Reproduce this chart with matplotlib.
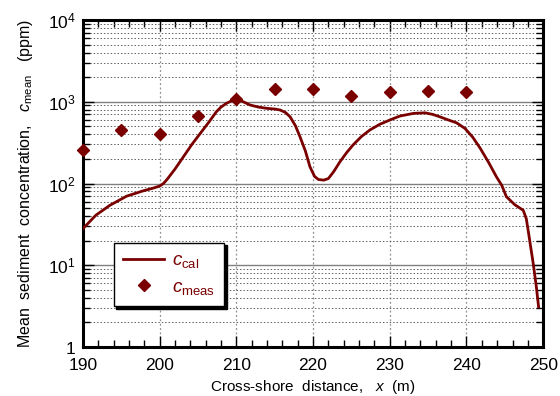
import numpy as np
import matplotlib
matplotlib.use("Agg")
import matplotlib.pyplot as plt
from matplotlib.ticker import LogLocator, MultipleLocator, FixedLocator

plt.rcParams['font.family'] = ['Liberation Sans', 'DejaVu Sans']
plt.rcParams['mathtext.fontset'] = 'custom'
plt.rcParams['mathtext.rm'] = 'Liberation Sans'
plt.rcParams['mathtext.it'] = 'Liberation Sans:italic'

# calculated concentration (line)
x_cal = [190, 191.7, 193.5, 195.7, 197.8, 199.2, 200.0, 200.5, 201.0, 202.0, 203.1, 204.2,
         205.3, 206.4, 207.4, 208.0, 208.7, 209.4, 210.0, 210.8, 211.8, 212.9, 214.0, 215.0,
         215.7, 216.4, 217.0, 217.7, 218.3, 219.0, 219.6, 220.2, 220.7, 221.4, 222.0, 222.7,
         223.5, 224.4, 225.2, 226.3, 227.4, 228.7, 230.0, 231.3, 233.1, 234.6, 235.6, 236.5,
         237.6, 238.7, 239.8, 240.8, 241.8, 242.9, 243.9, 244.6, 245.2, 246.3, 247.4, 247.8,
         248.1, 248.4, 248.7, 249.1, 249.4]
c_cal = [28, 41, 54, 70, 81, 88, 93, 100, 113, 150, 212, 300,
         410, 560, 755, 860, 955, 1030, 1080, 1010, 912, 860, 830, 815,
         793, 740, 656, 510, 373, 250, 160, 122, 112, 110, 115, 140,
         184, 240, 295, 375, 451, 530, 597, 668, 721, 732, 700, 656,
         600, 553, 472, 370, 269, 180, 121, 95, 69, 55, 47, 37,
         24.5, 16, 10.5, 5.5, 3.1]

# measured concentration (diamonds)
x_meas = [190, 195, 200, 205, 210, 215, 220, 225, 230, 235, 240]
c_meas = [256, 451, 403, 676, 1080, 1430, 1450, 1175, 1320, 1340, 1320]

red = '#7a0000'

fig = plt.figure(figsize=(5.6, 3.96), dpi=100)
ax = fig.add_axes([0.148, 0.1237, 0.822, 0.8258])

ax.set_yscale('log')
ax.set_xlim(190, 250)
ax.set_ylim(1, 1e4)

ax.xaxis.set_major_locator(MultipleLocator(10))
ax.xaxis.set_minor_locator(MultipleLocator(2))
ax.yaxis.set_major_locator(FixedLocator([1, 10, 100, 1000, 10000]))
ax.yaxis.set_minor_locator(LogLocator(base=10, subs=np.arange(2, 10), numticks=20))

ax.grid(True, which='major', axis='y', color='#808080', lw=1.0, ls='-')
ax.grid(True, which='minor', axis='y', color='#606060', lw=0.7, ls=(0, (1.5, 2)))
ax.grid(True, which='major', axis='x', color='#909090', lw=0.9, ls=(0, (1.5, 2)))

ax.tick_params(which='both', direction='in', top=True, right=True, width=1.0)
ax.tick_params(which='major', length=8, labelsize=12.5)
ax.tick_params(axis='x', which='major', pad=8)
ax.tick_params(axis='y', which='major', pad=5)
ax.tick_params(which='minor', length=5)
for s in ax.spines.values():
    s.set_linewidth(2.2)

ax.set_yticklabels([r'$\mathregular{1}$', r'$\mathregular{10^1}$', r'$\mathregular{10^2}$',
                    r'$\mathregular{10^3}$', r'$\mathregular{10^4}$'])

ax.plot(x_cal, c_cal, color=red, lw=2.0, label=r'$c_{\mathrm{cal}}$', zorder=3)
ax.plot(x_meas, c_meas, ls='none', marker='D', ms=6.5, color=red,
        label=r'$c_{\mathrm{meas}}$', zorder=4, clip_on=False)

leg = ax.legend(loc='lower left', bbox_to_anchor=(0.067, 0.125), borderaxespad=0,
                fancybox=False, edgecolor='black', framealpha=1, fontsize=13.5,
                handlelength=2.2, borderpad=0.5, labelspacing=0.45, handletextpad=0.4,
                shadow={'color': 'black', 'alpha': 1})
leg.get_frame().set_linewidth(1.0)
for t in leg.get_texts():
    t.set_color(red)

ax.set_xlabel(r'Cross-shore  distance,   $x$  (m)', fontsize=11)
ax.set_ylabel(r'Mean  sediment  concentration,   $c_{\mathrm{mean}}$   (ppm)', fontsize=11.5)
ax.xaxis.set_label_coords(0.5, -0.095)
ax.yaxis.set_label_coords(-0.105, 0.5)

fig.savefig('out.png', dpi=100)
